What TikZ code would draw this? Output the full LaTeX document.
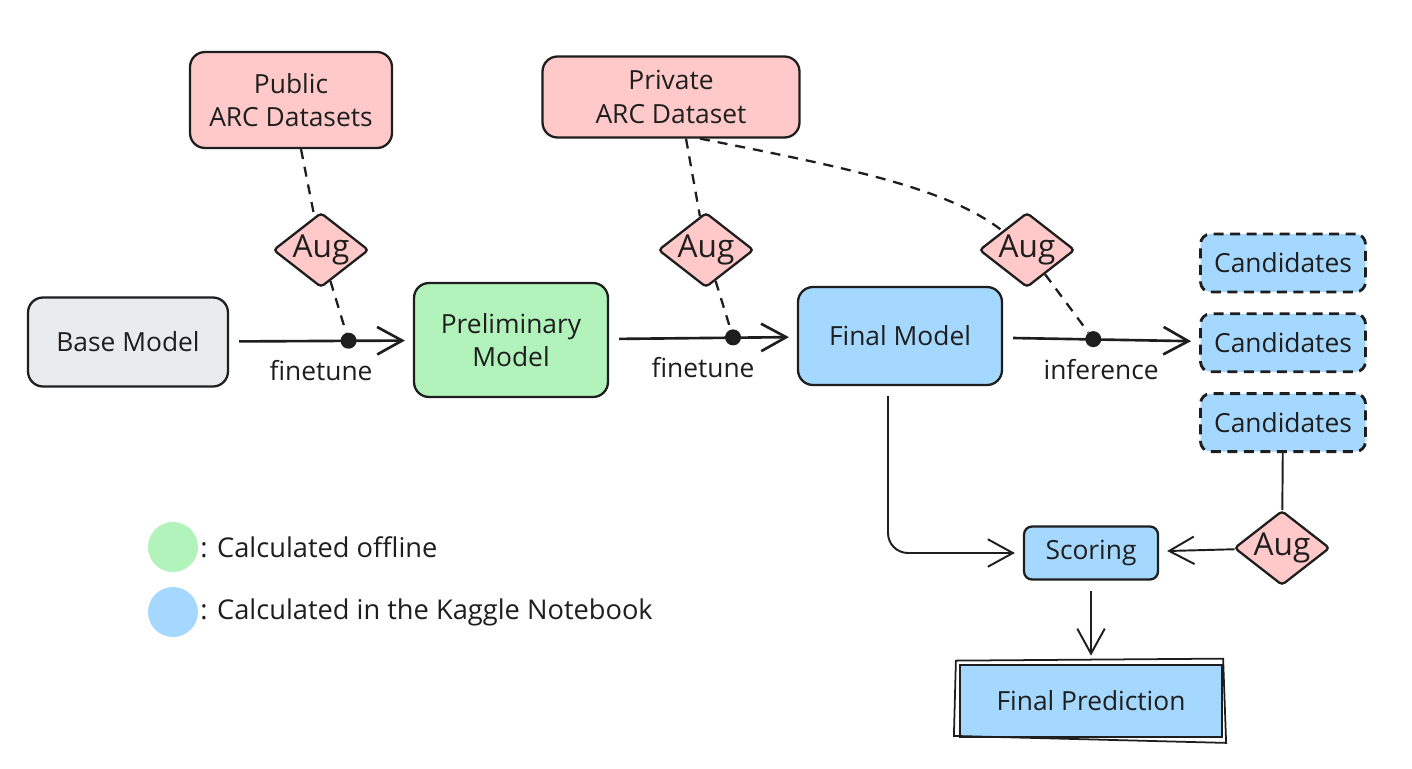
\documentclass[tikz,border=0pt]{standalone}
\usepackage{fontspec}
\setmainfont{Open Sans}
\usetikzlibrary{positioning,calc,arrows.meta,shapes.geometric}
\definecolor{arcpink}{HTML}{FFC9C9}
\definecolor{arcgreen}{HTML}{B2F2BB}
\definecolor{arcblue}{HTML}{A5D8FF}
\definecolor{arcgrey}{HTML}{E9ECEF}
\definecolor{ink}{HTML}{1E1E1E}

\begin{document}
\begin{tikzpicture}[x=0.02cm, y=-0.02cm, node distance=0.38cm,
    every node/.style={font=\fontsize{15}{19}\selectfont, text=ink},
    box/.style={draw=ink, line width=1.3pt, rounded corners=0.3cm, align=center, inner sep=0pt},
    cand/.style={box, fill=arcblue, line width=1.6pt, dash pattern=on 0.2cm off 0.13cm, rounded corners=0.2cm, minimum width=3.3cm, minimum height=1.16cm},
    aug/.style={diamond, draw=ink, line width=1.3pt, fill=arcpink, aspect=1.28, minimum width=1.84cm, minimum height=1.44cm, inner sep=0pt, rounded corners=2pt, font=\fontsize{18}{18}\selectfont},
    dot/.style={circle, fill=ink, minimum size=0.32cm, inner sep=0pt},
    flow/.style={draw=ink, line width=1.5pt, -{Straight Barb[length=0.5cm,width=0.55cm]}, shorten <=0.2cm, shorten >=0.16cm},
    link/.style={draw=ink, line width=1.1pt},
    dashlink/.style={link, line width=1.3pt, dash pattern=on 0.2cm off 0.16cm},
    legend/.style={circle, minimum size=1cm, inner sep=0pt}]
    \fill[white] (0,0) rectangle (1412,768);
    \useasboundingbox (0,0) rectangle (1412,768);
    %
    \node[box, fill=arcpink, minimum width=4.04cm, minimum height=1.92cm] (pub) at (291,100) {Public\\ARC Datasets};
    \node[box, fill=arcpink, minimum width=5.14cm, minimum height=1.62cm] (priv) at (671,97) {Private\\ARC Dataset};
    \node[box, fill=arcgrey, minimum width=4cm, minimum height=1.78cm] (base) at (128,342) {Base Model};
    \node[box, fill=arcgreen, minimum width=3.88cm, minimum height=2.28cm] (prelim) at (511,340) {Preliminary\\Model};
    \node[box, fill=arcblue, minimum width=4.08cm, minimum height=1.96cm] (final) at (900,336) {Final Model};
    \node[cand] (cand1) at (1283,263) {Candidates};
    \node[cand, below=of cand1] (cand2) {Candidates};
    \node[cand, below=of cand2] (cand3) {Candidates};
    \node[box, fill=arcblue, rounded corners=0.16cm, minimum width=2.68cm, minimum height=1.06cm] (score) at (1091,553) {Scoring};
    \node[box, fill=arcblue, rounded corners=0pt, minimum width=5.24cm, minimum height=1.44cm, below=1.66cm of score] (pred) {Final Prediction};
    %
    \node[aug] (aug1) at (321,250) {Aug};
    \node[aug] (aug2) at (706,250) {Aug};
    \node[aug] (aug3) at (1027,250) {Aug};
    \node[aug] (aug4) at (1282,548) {Aug};
    \node[dot] (dot1) at ($(base.east)!0.65!(prelim.west)$) {};
    \node[dot] (dot2) at ($(prelim.east)!0.66!(final.west)$) {};
    \node[dot] (dot3) at ($(final.east)!0.46!(cand2.west)$) {};
    %
    \node[legend, fill=arcgreen] (leg1) at (173,547) {};
    \node[legend, fill=arcblue] (leg2) at (173,612) {};
    \node[right=0pt of leg1, inner sep=1pt, font=\fontsize{15.5}{18}\selectfont] (leg1txt) {: Calculated offline};
    \node[right=0pt of leg2, inner sep=1pt, font=\fontsize{15.5}{18}\selectfont] (leg2txt) {: Calculated in the Kaggle Notebook};
    %
    \draw[flow] (base) -- node[below=0.25cm]{finetune} (prelim);
    \draw[flow] (prelim) -- node[below=0.25cm]{finetune} (final);
    \draw[flow] (final) -- node[below=0.25cm]{inference} (cand2);
    \draw[flow, line width=1.1pt, rounded corners=0.4cm] ([xshift=-0.24cm]final.south) |- (score.west);
    \draw[link] (cand3) -- (aug4);
    \draw[flow, line width=1.1pt, shorten <=0pt] (aug4) -- (score);
    \draw[flow, line width=1.1pt] (score) -- (pred);
    \draw[link, line width=1pt] ($(pred.south west)+(-0.1cm,0.04cm)$) -- ($(pred.north west)+(-0.06cm,0.06cm)$) -- ($(pred.north east)+(0cm,0.1cm)$) -- ($(pred.south east)+(0.06cm,-0.1cm)$) -- cycle;
    %
    \draw[dashlink] ([xshift=0.2cm]pub.south) -- (aug1);
    \draw[dashlink] (aug1) -- (dot1);
    \draw[dashlink] ([xshift=0.3cm]priv.south) -- (aug2);
    \draw[dashlink] (aug2) -- (dot2);
    \draw[dashlink] ([xshift=0.58cm]priv.south) .. controls (860,170) and (950,190) .. (aug3);
    \draw[dashlink] (aug3) -- (dot3);
  \end{tikzpicture}
\end{document}
